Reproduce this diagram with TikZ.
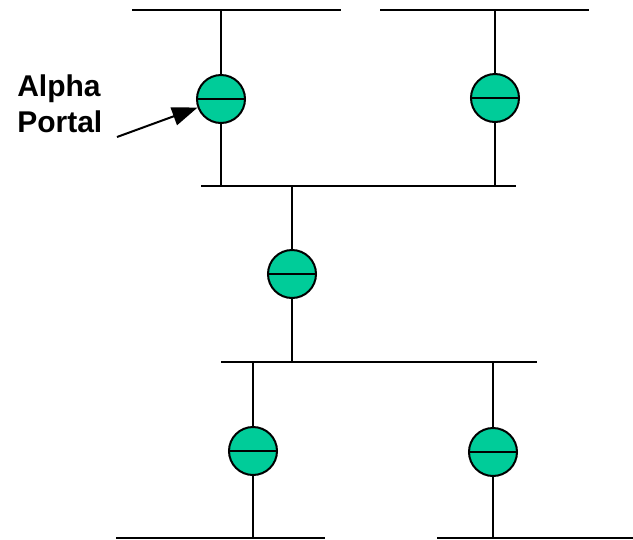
\documentclass[tikz,border=0pt]{standalone}
\usepackage{fontspec}
\setmainfont{Liberation Sans}
\usetikzlibrary{arrows.meta}
\definecolor{portalfill}{RGB}{0,204,153}
\begin{document}
\begin{tikzpicture}[x=0.75pt,y=-0.75pt,
  wire/.style={line width=1.5pt},
  portal/.style={circle,draw,line width=1.5pt,fill=portalfill,
    minimum size=36pt,inner sep=0pt,
    path picture={\draw[line width=1.5pt]
      (path picture bounding box.west) -- (path picture bounding box.east);}},
  label/.style={font=\bfseries\fontsize{22.5}{27}\selectfont,align=left,inner sep=0pt}]
\useasboundingbox (0,0) rectangle (633,540);

% network segments (buses)
\coordinate (t1a) at (132,10);  \coordinate (t1b) at (341,10);
\coordinate (t2a) at (380,10);  \coordinate (t2b) at (589,10);
\coordinate (m1a) at (201,186); \coordinate (m1b) at (516,186);
\coordinate (m2a) at (221,362); \coordinate (m2b) at (537,362);
\coordinate (b1a) at (116,538); \coordinate (b1b) at (325,538);
\coordinate (b2a) at (437,538); \coordinate (b2b) at (633,538);
\foreach \a/\b in {t1a/t1b,t2a/t2b,m1a/m1b,m2a/m2b,b1a/b1b,b2a/b2b}
  \draw[wire] (\a) -- (\b);

% portals
\node[portal] (p1) at (221,99)  {};
\node[portal] (p2) at (495,98)  {};
\node[portal] (p3) at (292,274) {};
\node[portal] (p4) at (253,451) {};
\node[portal] (p5) at (493,452) {};

% taps from the buses to the portals
\draw[wire] (p1) -- (p1 |- t1a);
\draw[wire] (p1) -- (p1 |- m1a);
\draw[wire] (p2) -- (p2 |- t2a);
\draw[wire] (p2) -- (p2 |- m1a);
\draw[wire] (p3) -- (p3 |- m1a);
\draw[wire] (p3) -- (p3 |- m2a);
\draw[wire] (p4) -- (p4 |- m2a);
\draw[wire] (p4) -- (p4 |- b1a);
\draw[wire] (p5) -- (p5 |- m2a);
\draw[wire] (p5) -- (p5 |- b2a);

% label with pointer
\node[label,anchor=north west] (lbl) at (17,74) {Alpha\\Portal};
\coordinate (tail) at (117,137);
\draw[line width=1.5pt,-{Triangle[length=19pt,width=14pt]}] (tail) -- (p1);
\end{tikzpicture}
\end{document}
